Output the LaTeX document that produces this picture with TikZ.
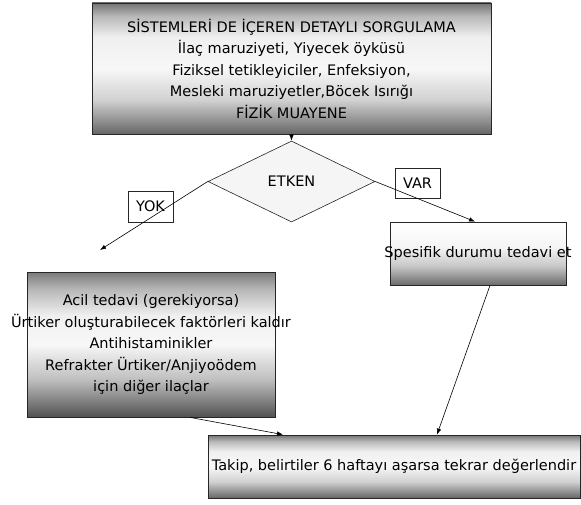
\documentclass[tikz,border=0pt]{standalone}
\usepackage{fontspec}
\setmainfont{DejaVu Sans}
\usetikzlibrary{shapes.geometric,arrows.meta}

% box shadings, colours from bottom (25bp) to top (75bp)
\pgfdeclareverticalshading{barrel}{100bp}{color(0bp)=(black!60); color(25bp)=(black!60); color(38bp)=(black!18); color(50bp)=(black!3); color(62bp)=(black!6); color(70bp)=(black!28); color(75bp)=(black!55); color(100bp)=(black!55)}
\pgfdeclareverticalshading{deepbarrel}{100bp}{color(0bp)=(black!68); color(25bp)=(black!68); color(38bp)=(black!25); color(50bp)=(black!3); color(60bp)=(black!6); color(69bp)=(black!28); color(75bp)=(black!52); color(100bp)=(black!52)}
\pgfdeclareverticalshading{fade}{100bp}{color(0bp)=(black!58); color(25bp)=(black!58); color(40bp)=(black!22); color(55bp)=(black!4); color(75bp)=(white); color(100bp)=(white)}

\tikzset{
  box/.style={shape=rectangle,draw=black!85,line width=0.8pt,align=center,inner sep=0pt},
  tag/.style={shape=rectangle,draw=black!85,line width=0.7pt,fill=white,inner sep=0pt},
  flow/.style={line width=0.6pt,-{Latex[length=6pt,width=4.5pt]}}
}

\begin{document}
\begin{tikzpicture}[x=1pt,y=-1pt,font=\fontsize{14.5}{21.5}\selectfont]
\useasboundingbox (0,0) rectangle (581,505);
\node[box,minimum width=399pt,minimum height=131pt,shade,shading=barrel] (S) at (291.5,68.5)
  {SİSTEMLERİ DE İÇEREN DETAYLI SORGULAMA\\İlaç maruziyeti, Yiyecek öyküsü\\Fiziksel tetikleyiciler, Enfeksiyon,\\Mesleki maruziyetler,Böcek Isırığı\\FİZİK MUAYENE};
\node[shape=diamond,draw=black!85,line width=0.6pt,fill=black!4,inner sep=0pt,aspect=2.06,minimum width=167pt,minimum height=81pt] (E) at (291.5,181.5) {ETKEN};
\node[tag,minimum width=45pt,minimum height=31pt] (Y) at (150.5,206.5) {YOK};
\node[tag,minimum width=45pt,minimum height=30pt] (V) at (417.5,183) {VAR};
\node[box,inner xsep=-6pt,minimum width=176pt,minimum height=63pt,shade,shading=fade] (P) at (478,253.5) {Spesifik durumu tedavi et};
\node[box,inner xsep=-17pt,minimum width=248pt,minimum height=145pt,shade,shading=deepbarrel] (T) at (151,344.5)
  {Acil tedavi (gerekiyorsa)\\Ürtiker oluşturabilecek faktörleri kaldır\\Antihistaminikler\\Refrakter Ürtiker/Anjiyoödem\\için diğer ilaçlar};
\node[box,minimum width=372pt,minimum height=63pt,shade,shading=barrel] (K) at (394,466.5)
  {Takip, belirtiler 6 haftayı aşarsa tekrar değerlendir};
\coordinate (Ye) at (100,250);
\path [flow] (S) edge (E);
\path [flow] (E.west) edge (Ye);
\path [flow] (E.east) edge (P.north -| 475,0);
\path [flow] ([xshift=12pt]P.south) edge (K.north -| 437,0);
\path [flow] ([xshift=39pt]T.south) edge (K.north -| 283,0);
\end{tikzpicture}
\end{document}
